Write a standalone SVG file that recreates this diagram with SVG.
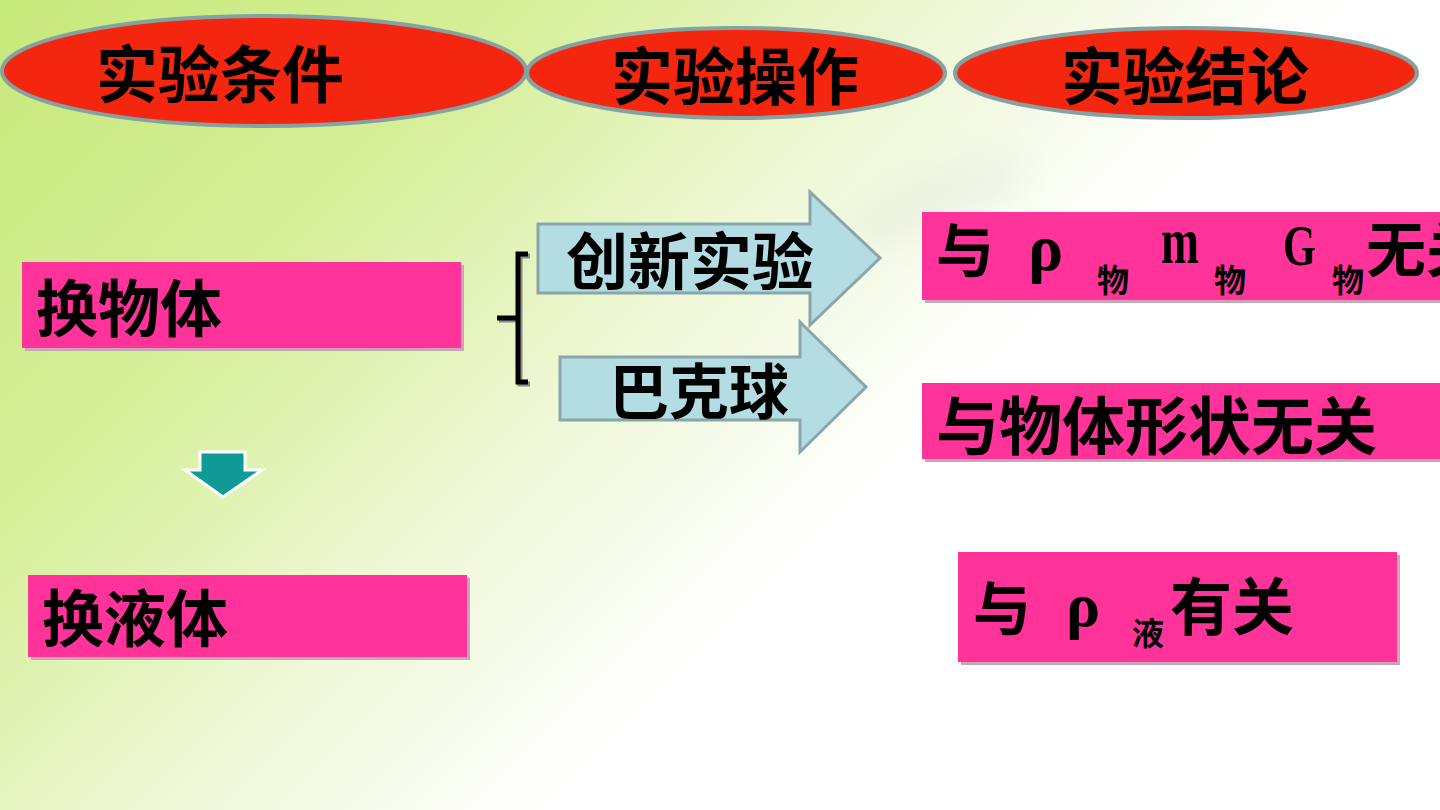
<svg xmlns="http://www.w3.org/2000/svg" width="1440" height="810" viewBox="0 0 1440 810">
<defs>
<linearGradient id="bg" gradientUnits="userSpaceOnUse" x1="0" y1="0" x2="680" y2="680">
<stop offset="0" stop-color="#c6e97a"/>
<stop offset="0.4" stop-color="#d6ef9a"/>
<stop offset="0.72" stop-color="#eff8d8"/>
<stop offset="1" stop-color="#ffffff"/>
</linearGradient>
<filter id="blur" x="-50%" y="-50%" width="200%" height="200%"><feGaussianBlur stdDeviation="16"/></filter>
<style>
.cj{font-family:"Noto Sans CJK SC","Noto Sans CJK TC",sans-serif;font-weight:bold;fill:#000}
.lat{font-family:"Liberation Serif",serif;font-weight:bold;fill:#000}
.oval{fill:#f4260f;stroke:#85a2a3;stroke-width:4}
.pink{fill:#ff3399}
.shadow{fill:#c9a6b6}
.blue{fill:#b3dde2;stroke:#8ba6aa;stroke-width:3}
</style>
</defs>
<rect width="1440" height="810" fill="url(#bg)"/>
<ellipse cx="935" cy="200" rx="95" ry="30" transform="rotate(-22 935 200)" fill="#a0a0a0" opacity="0.09" filter="url(#blur)"/>

<g id="head1"><ellipse class="oval" cx="264" cy="71" rx="262" ry="55"/><text class="cj" x="220" y="98" font-size="62" text-anchor="middle">实验条件</text></g>
<g id="head2"><ellipse class="oval" cx="736" cy="73" rx="209" ry="45"/><text class="cj" x="735" y="100" font-size="62" text-anchor="middle">实验操作</text></g>
<g id="head3"><ellipse class="oval" cx="1186" cy="73" rx="231" ry="45"/><text class="cj" x="1185" y="100" font-size="62" text-anchor="middle">实验结论</text></g>

<g id="n-huanwuti"><rect class="shadow" x="25" y="265" width="439" height="86"/><rect class="pink" x="22" y="262" width="439" height="86"/><text class="cj" x="36" y="332" font-size="62">换物体</text></g>
<g id="n-huanyeti"><rect class="shadow" x="31" y="578" width="439" height="82"/><rect class="pink" x="28" y="575" width="439" height="82"/><text class="cj" x="42" y="642" font-size="62">换液体</text></g>

<g id="n-chuangxin"><path class="blue" d="M538 224 H810 V192 L880 258 L810 325 V293 H538 Z"/><text class="cj" x="690" y="285" font-size="62" text-anchor="middle">创新实验</text></g>
<g id="n-bakeqiu"><path class="blue" d="M560 357 H800 V322 L866 387 L800 452 V420 H560 Z"/><text class="cj" x="699" y="414" font-size="60" text-anchor="middle">巴克球</text></g>

<g id="n-c1"><rect class="shadow" x="925" y="215" width="520" height="88"/><rect class="pink" x="922" y="212" width="520" height="88"/>
<text class="cj" x="936" y="272" font-size="58">与</text>
<text class="lat" x="1028" y="270" font-size="66">ρ</text>
<text class="cj" x="1097" y="292" font-size="32">物</text>
<text class="lat" x="1161" y="263" font-size="66" textLength="38" lengthAdjust="spacingAndGlyphs">m</text>
<text class="cj" x="1214" y="292" font-size="32">物</text>
<text class="lat" x="1283" y="265" font-size="56" textLength="33" lengthAdjust="spacingAndGlyphs">G</text>
<text class="cj" x="1332" y="292" font-size="32">物</text>
<text class="cj" x="1366" y="272" font-size="60">无关</text>
</g>
<g id="n-c2"><rect class="shadow" x="925" y="386" width="520" height="76"/><rect class="pink" x="922" y="383" width="520" height="76"/><text class="cj" x="936" y="449" font-size="63">与物体形状无关</text></g>
<g id="n-c3"><rect class="shadow" x="961" y="555" width="439" height="110"/><rect class="pink" x="958" y="552" width="439" height="110"/>
<text class="cj" x="973" y="630" font-size="58">与</text>
<text class="lat" x="1066" y="626" font-size="64">ρ</text>
<text class="cj" x="1132" y="645" font-size="32">液</text>
<text class="cj" x="1170" y="630" font-size="62">有关</text>
</g>

<g id="connectors">
<path d="M528 254 H518 V382 H528 M518 318 H497" fill="none" stroke="#8a8a8a" stroke-width="5" transform="translate(2 2)"/>
<path d="M528 254 H518 V382 H528 M518 318 H497" fill="none" stroke="#000" stroke-width="5"/>
<path d="M200 452 H245 V470 H262 L223 497 L185 470 H200 Z" fill="#0f9a96" stroke="#ffffff" stroke-width="3"/>
</g>
</svg>
